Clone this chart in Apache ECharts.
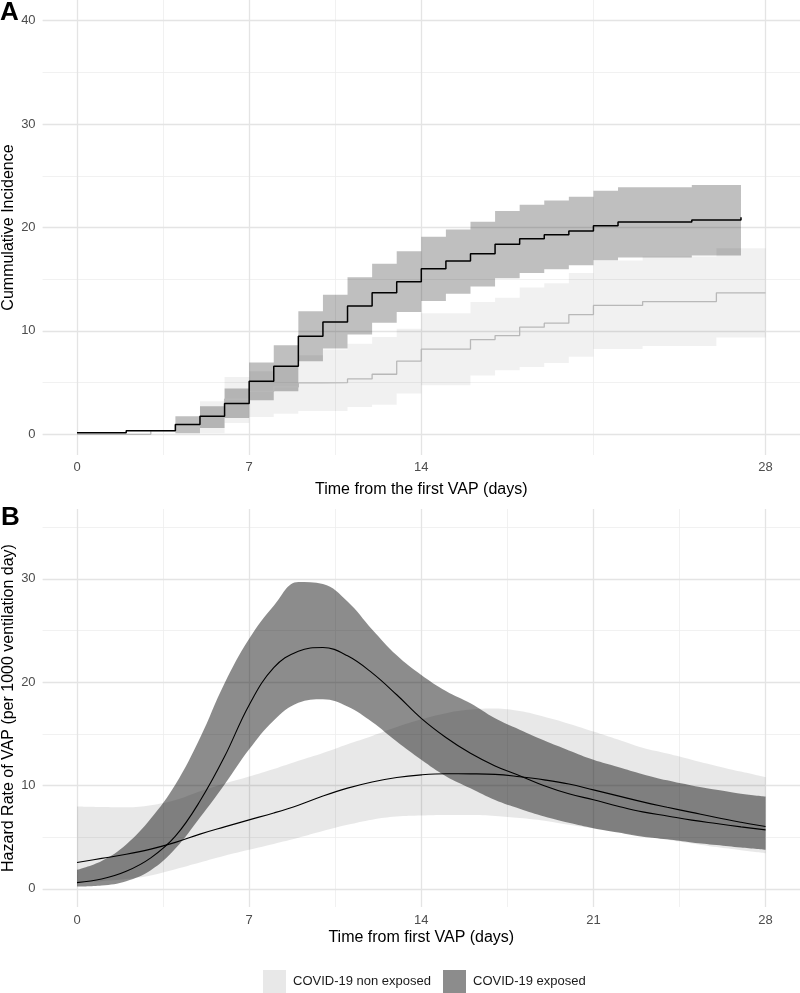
<!DOCTYPE html>
<html>
<head>
<meta charset="utf-8">
<script src="https://cdn.jsdelivr.net/npm/echarts@6/dist/echarts.min.js"></script>
<style>
html,body{margin:0;padding:0;background:#fff;}
#chart{width:800px;height:993px;}
</style>
</head>
<body>
<div id="chart"></div>
<script>
// ---------- Panel A : cumulative incidence (step functions) ----------
const daysA_exp = [0, 2, 4, 5, 6, 7, 8, 9, 10, 11, 12, 13, 14, 15, 16, 17, 18, 19, 20, 21, 22, 25, 27];
const ciA_exp   = [0.15, 0.35, 0.94, 1.74, 2.97, 5.13, 6.58, 9.48, 10.87, 12.42, 13.68, 14.76, 16.0, 16.76, 17.47, 18.39, 18.92, 19.31, 19.65, 20.18, 20.53, 20.73, 21.0];
const daysA_expBand = [4, 5, 6, 7, 8, 9, 10, 11, 12, 13, 14, 15, 16, 17, 18, 19, 20, 21, 22, 25, 27];
const lowA_exp  = [0.1, 0.61, 1.58, 3.29, 4.16, 7.06, 8.29, 9.65, 10.8, 11.84, 12.9, 13.6, 14.3, 15.1, 15.6, 15.97, 16.36, 16.84, 17.1, 17.3, 17.3];
const upA_exp   = [1.74, 2.71, 4.42, 6.94, 8.61, 11.9, 13.5, 15.2, 16.5, 17.7, 19.1, 19.8, 20.55, 21.6, 22.2, 22.6, 22.97, 23.55, 23.9, 24.1, 24.1];

const daysA_non = [0, 3, 4, 5, 6, 7, 8, 9, 10, 11, 12, 13, 14, 16, 17, 18, 19, 20, 21, 23, 26, 28];
const ciA_non   = [0.0, 0.35, 0.94, 1.74, 3.39, 4.16, 4.58, 4.97, 5.0, 5.36, 5.81, 7.07, 8.23, 9.16, 9.55, 10.36, 10.75, 11.58, 12.46, 12.84, 13.68, 13.68];
const daysA_nonBand = [5, 6, 7, 8, 9, 10, 11, 12, 13, 14, 16, 17, 18, 19, 20, 21, 23, 26, 28];
const lowA_non  = [0.1, 1.1, 1.68, 2.0, 2.26, 2.26, 2.65, 2.87, 3.94, 4.74, 5.7, 6.2, 6.5, 6.9, 7.5, 8.25, 8.55, 9.36, 9.36];
const upA_non   = [3.2, 5.55, 6.1, 6.6, 7.65, 8.2, 8.77, 9.42, 10.2, 11.7, 12.8, 13.2, 14.2, 14.6, 15.6, 16.8, 17.2, 18.0, 18.0];

const ticksA_x = [0, 7, 14, 28];
const minorA_x = [3.5, 10.5, 21];
const ticksA_y = [0, 10, 20, 30, 40];
const minorA_y = [5, 15, 25, 35];

// ---------- Panel B : hazard rate (smooth curves) ----------
const daysB = [0, 1, 2, 3, 4, 5, 6, 7, 8, 9, 10, 11, 12, 13, 14, 15, 16, 17, 18, 19, 20, 21, 22, 23, 24, 25, 26, 27, 28];
const hzB_exp  = [0.61, 0.95, 1.7, 3.0, 5.1, 8.5, 12.8, 17.8, 21.4, 23.0, 23.35, 22.55, 20.9, 18.78, 16.5, 14.65, 13.12, 11.9, 10.95, 9.98, 9.2, 8.62, 8.0, 7.45, 7.05, 6.65, 6.32, 6.0, 5.71];
const upB_exp  = [1.84, 2.7, 4.3, 6.8, 10.1, 14.6, 19.9, 24.2, 27.4, 29.7, 29.5, 27.8, 25.1, 22.6, 20.7, 19.15, 17.95, 16.5, 15.4, 14.35, 13.4, 12.5, 11.8, 11.1, 10.5, 10.0, 9.58, 9.2, 8.93];
const lowB_exp = [0.23, 0.33, 0.75, 1.8, 3.9, 6.9, 10.1, 13.5, 16.3, 18.0, 18.35, 17.65, 16.15, 14.26, 12.49, 10.9, 9.73, 8.6, 7.75, 7.0, 6.4, 5.87, 5.45, 5.05, 4.8, 4.5, 4.25, 4.0, 3.78];
const hzB_non  = [2.55, 2.95, 3.35, 3.85, 4.5, 5.3, 6.0, 6.68, 7.35, 8.1, 8.98, 9.75, 10.35, 10.78, 11.03, 11.14, 11.13, 11.08, 10.85, 10.55, 10.15, 9.58, 9.0, 8.42, 7.9, 7.4, 6.9, 6.45, 6.03];
const upB_non  = [7.97, 7.92, 7.9, 8.1, 8.6, 9.45, 10.2, 10.87, 11.6, 12.4, 13.15, 14.0, 14.8, 15.65, 16.4, 17.0, 17.35, 17.45, 17.2, 16.65, 15.98, 15.23, 14.45, 13.65, 13.1, 12.5, 11.9, 11.35, 10.81];
const lowB_non = [0.6, 0.75, 0.95, 1.3, 1.9, 2.55, 3.2, 3.78, 4.35, 4.95, 5.6, 6.2, 6.7, 7.0, 7.1, 7.15, 7.15, 7.05, 6.85, 6.6, 6.2, 5.85, 5.5, 5.1, 4.75, 4.4, 4.05, 3.75, 3.46];

const ticksB_x = [0, 7, 14, 21, 28];
const minorB_x = [3.5, 10.5, 17.5, 24.5];
const ticksB_y = [0, 10, 20, 30];
const minorB_y = [5, 15, 25, 35];

const groupNames = ['COVID-19 non exposed', 'COVID-19 exposed'];

// ---------- build ----------
const FONT = "'Liberation Sans', Arial, sans-serif";
const zip = (xs, ys) => xs.map((x, i) => [x, ys[i]]);
// stacked series: value first so that the stack runs on the y value (encode swaps back)
const zipYX = (xs, ys) => xs.map((x, i) => [ys[i], x]);
const diffYX = (xs, lo, up) => xs.map((x, i) => [+(up[i] - lo[i]).toFixed(4), x]);

const MAJOR = {color: '#e4e4e4', width: 1.3, type: 'solid'};
const MINOR = {color: '#ededed', width: 0.8, type: 'solid'};
function gridSeries(idx, mx, nx, my, ny) {
  const d = [];
  nx.forEach(v => d.push({xAxis: v, lineStyle: MINOR}));
  ny.forEach(v => d.push({yAxis: v, lineStyle: MINOR}));
  mx.forEach(v => d.push({xAxis: v, lineStyle: MAJOR}));
  my.forEach(v => d.push({yAxis: v, lineStyle: MAJOR}));
  return {
    type: 'line', xAxisIndex: idx, yAxisIndex: idx, data: [[0, 0]],
    showSymbol: false, symbol: 'none', lineStyle: {opacity: 0}, silent: true, z: 0,
    markLine: {z: 0, silent: true, symbol: ['none', 'none'], label: {show: false}, animation: false, data: d}
  };
}
function base(idx, data, stack, step, smooth) {
  return {type: 'line', xAxisIndex: idx, yAxisIndex: idx, data, stack, step, smooth,
    encode: {x: 1, y: 0},
    symbol: 'none', lineStyle: {width: 0, opacity: 0}, silent: true, z: 2};
}
function band(idx, data, stack, step, smooth, color) {
  return {type: 'line', xAxisIndex: idx, yAxisIndex: idx, data, stack, step, smooth,
    encode: {x: 1, y: 0},
    symbol: 'none', lineStyle: {width: 0, opacity: 0}, areaStyle: {color, opacity: 1}, silent: true, z: 2};
}
function curve(idx, data, step, smooth, color, width) {
  return {type: 'line', xAxisIndex: idx, yAxisIndex: idx, data, step, smooth,
    symbol: 'none', lineStyle: {color, width}, silent: true, z: 3};
}

const axisLabelStyle = {color: '#4d4d4d', fontSize: 13, fontFamily: FONT};
const nameStyle = {color: '#000', fontSize: 16, fontFamily: FONT};

const option = {
  animation: false,
  backgroundColor: '#fff',
  grid: [
    {left: 42.6, right: 0, top: 0, height: 455, outerBoundsMode: 'none', containLabel: false},
    {left: 42.6, right: 0, top: 509, height: 398, outerBoundsMode: 'none', containLabel: false}
  ],
  xAxis: [
    {gridIndex: 0, type: 'value', min: -1.4, max: 29.4,
     axisLine: {show: false}, axisTick: {show: false}, splitLine: {show: false},
     axisLabel: Object.assign({customValues: ticksA_x, margin: 6}, axisLabelStyle),
     name: 'Time from the first VAP (days)', nameLocation: 'middle', nameGap: 27, nameMoveOverlap: false, nameTextStyle: nameStyle},
    {gridIndex: 1, type: 'value', min: -1.4, max: 29.4,
     axisLine: {show: false}, axisTick: {show: false}, splitLine: {show: false},
     axisLabel: Object.assign({customValues: ticksB_x, margin: 7}, axisLabelStyle),
     name: 'Time from first VAP (days)', nameLocation: 'middle', nameGap: 23, nameMoveOverlap: false, nameTextStyle: nameStyle}
  ],
  yAxis: [
    {gridIndex: 0, type: 'value', min: -2, max: 42,
     axisLine: {show: false}, axisTick: {show: false}, splitLine: {show: false},
     axisLabel: Object.assign({customValues: ticksA_y, margin: 7}, axisLabelStyle),
     name: 'Cummulative Incidence', nameLocation: 'middle', nameGap: 26, nameMoveOverlap: false, nameTextStyle: nameStyle},
    {gridIndex: 1, type: 'value', min: -1.75, max: 36.75,
     axisLine: {show: false}, axisTick: {show: false}, splitLine: {show: false},
     axisLabel: Object.assign({customValues: ticksB_y, margin: 7}, axisLabelStyle),
     name: 'Hazard Rate of VAP (per 1000 ventilation day)', nameLocation: 'middle', nameGap: 26, nameMoveOverlap: false, nameTextStyle: nameStyle}
  ],
  legend: {
    left: 263, top: 970, orient: 'horizontal', itemWidth: 23, itemHeight: 23, itemGap: 12,
    selectedMode: false, padding: 0,
    textStyle: {color: '#1a1a1a', fontSize: 13, fontFamily: FONT, padding: [0, 0, 0, 2]},
    data: [{name: groupNames[0], icon: 'rect'}, {name: groupNames[1], icon: 'rect'}]
  },
  graphic: [
    {type: 'text', left: 0, top: 0, style: {text: 'A', font: 'bold 26px ' + FONT, fill: '#000'}},
    {type: 'text', left: 1, top: 505, style: {text: 'B', font: 'bold 26px ' + FONT, fill: '#000'}}
  ],
  series: [
    // panel A
    gridSeries(0, ticksA_x, minorA_x, ticksA_y, minorA_y),
    base(0, zipYX(daysA_nonBand, lowA_non), 'aNon', 'end', false),
    band(0, diffYX(daysA_nonBand, lowA_non, upA_non), 'aNon', 'end', false, 'rgba(0,0,0,0.055)'),
    base(0, zipYX(daysA_expBand, lowA_exp), 'aExp', 'end', false),
    band(0, diffYX(daysA_expBand, lowA_exp, upA_exp), 'aExp', 'end', false, 'rgba(0,0,0,0.25)'),
    curve(0, zip(daysA_non, ciA_non), 'end', false, '#b8b8b8', 1.3),
    curve(0, zip(daysA_exp, ciA_exp), 'end', false, '#000', 1.5),
    // panel B
    gridSeries(1, ticksB_x, minorB_x, ticksB_y, minorB_y),
    base(1, zipYX(daysB, lowB_non), 'bNon', false, 0.4),
    band(1, diffYX(daysB, lowB_non, upB_non), 'bNon', false, 0.4, 'rgba(0,0,0,0.09)'),
    base(1, zipYX(daysB, lowB_exp), 'bExp', false, 0.4),
    band(1, diffYX(daysB, lowB_exp, upB_exp), 'bExp', false, 0.4, 'rgba(0,0,0,0.45)'),
    curve(1, zip(daysB, hzB_non), false, 0.4, '#000', 1.1),
    curve(1, zip(daysB, hzB_exp), false, 0.4, '#000', 1.1),
    // legend keys
    {type: 'bar', name: groupNames[0], xAxisIndex: 1, yAxisIndex: 1, data: [], itemStyle: {color: '#e8e8e8'}},
    {type: 'bar', name: groupNames[1], xAxisIndex: 1, yAxisIndex: 1, data: [], itemStyle: {color: '#8c8c8c'}}
  ]
};

const chart = echarts.init(document.getElementById('chart'), null, {renderer: 'canvas'});
chart.setOption(option);
</script>
</body>
</html>
